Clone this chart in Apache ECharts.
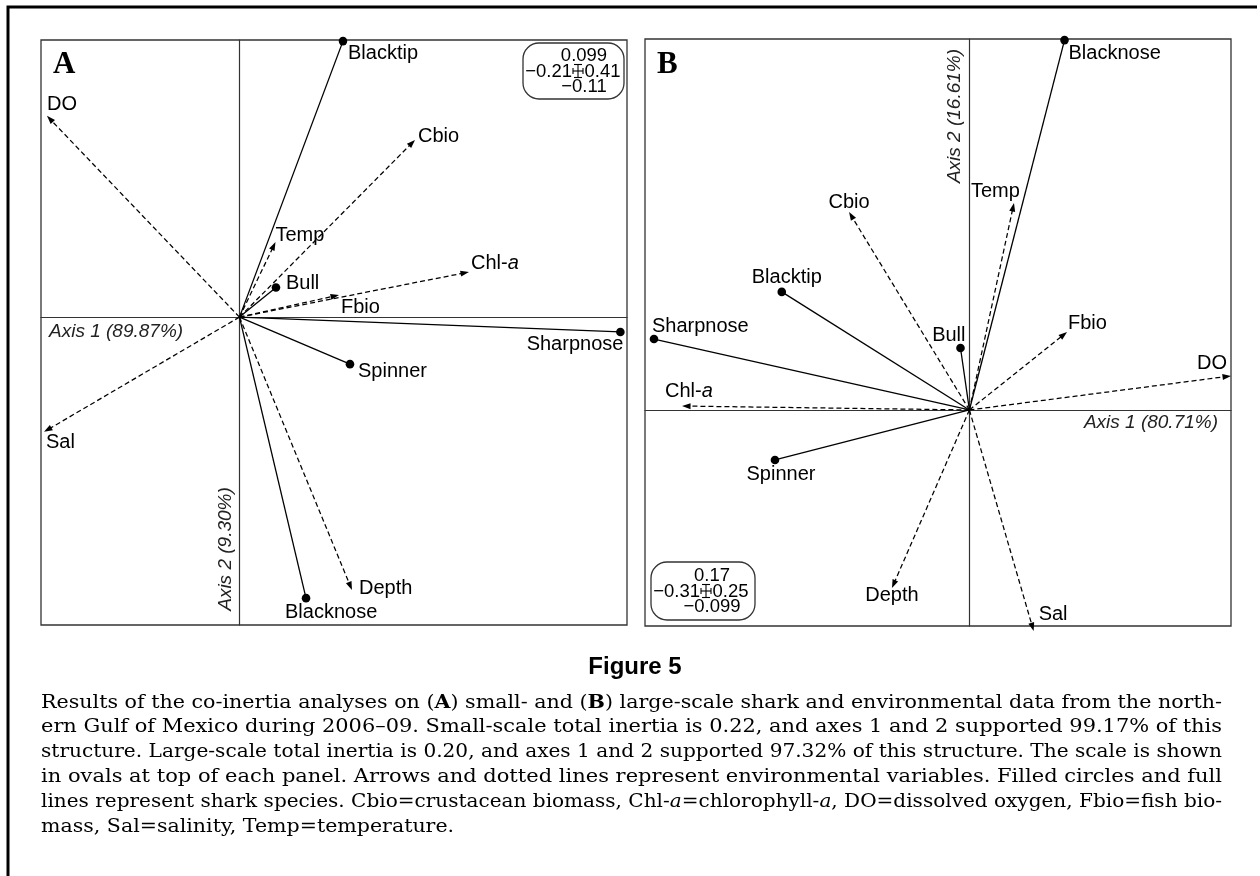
<!DOCTYPE html>
<html><head><meta charset="utf-8">
<script src="https://cdn.jsdelivr.net/npm/echarts@6/dist/echarts.min.js"></script>
<style>html,body{margin:0;padding:0;background:#fff}#c{width:1260px;height:876px}</style>
</head><body><div id="c"></div>
<script>
// ---------- Panel A (small scale) ----------
const limitsA = [-0.21, 0.41, -0.11, 0.099];          // xmin, xmax, ymin, ymax (scale oval)
const limitLabelsA = ['0.099', '\u22120.21', '0.41', '\u22120.11']; // top, left, right, bottom
const speciesA  = ['Blacktip', 'Bull', 'Sharpnose', 'Spinner', 'Blacknose'];
const speciesAx = [0.1095, 0.0386, 0.403, 0.1169, 0.0704];
const speciesAy = [0.0986, 0.0106, -0.0053, -0.0168, -0.1004];
const envA  = ['DO', 'Cbio', 'Temp', 'Chl-a', 'Fbio', 'Sal', 'Depth'];
const envAx = [-0.2037, 0.1857, 0.0381, 0.2428, 0.1053, -0.2068, 0.119];
const envAy = [0.0719, 0.0633, 0.0268, 0.0161, 0.0079, -0.041, -0.0975];
const axisTitlesA = ['Axis 1 (89.87%)', 'Axis 2 (9.30%)'];

// ---------- Panel B (large scale) ----------
const limitsB = [-0.31, 0.25, -0.099, 0.17];
const limitLabelsB = ['0.17', '\u22120.31', '0.25', '\u22120.099'];
const speciesB  = ['Blacknose', 'Blacktip', 'Sharpnose', 'Bull', 'Spinner'];
const speciesBx = [0.0909, -0.1793, -0.3014, -0.0085, -0.1858];
const speciesBy = [0.1695, 0.0541, 0.0325, 0.0284, -0.0229];
const envB  = ['Temp', 'Cbio', 'Fbio', 'DO', 'Chl-a', 'Depth', 'Sal'];
const envBx = [0.0426, -0.115, 0.0933, 0.25, -0.2746, -0.074, 0.0614];
const envBy = [0.0948, 0.0907, 0.0357, 0.0156, 0.0018, -0.0816, -0.1013];
const axisTitlesB = ['Axis 1 (80.71%)', 'Axis 2 (16.61%)'];

// ---------- Caption ----------
const figureTitle = 'Figure 5';
const captionLines = [
  [['r','Results of the co-inertia analyses on ('],['b','A'],['r',') small- and ('],['b','B'],['r',') large-scale shark and environmental data from the north-']],
  [['r','ern Gulf of Mexico during 2006\u201309. Small-scale total inertia is 0.22, and axes 1 and 2 supported 99.17% of this']],
  [['r','structure. Large-scale total inertia is 0.20, and axes 1 and 2 supported 97.32% of this structure. The scale is shown']],
  [['r','in ovals at top of each panel. Arrows and dotted lines represent environmental variables. Filled circles and full']],
  [['r','lines represent shark species. Cbio=crustacean biomass, Chl-'],['i','a'],['r','=chlorophyll-'],['i','a'],['r',', DO=dissolved oxygen, Fbio=fish bio-']],
  [['r','mass, Sal=salinity, Temp=temperature.']]
];

// ---------- Styling (label placement relative to the mark) ----------
const LBL = [
  { // panel A: [align, dx, dy]
    Blacktip:['left',5,12], Bull:['left',10,-4], Sharpnose:['right',3,13], Spinner:['left',8,7],
    Blacknose:['left',-21,14], DO:['left',0,-11], Cbio:['left',3,-3], Temp:['left',0,-7],
    'Chl-a':['left',2,-9], Fbio:['left',2,12], Sal:['left',2,11], Depth:['left',7,-2]
  },
  { // panel B
    Blacknose:['left',4,13], Blacktip:['center',5,-14], Sharpnose:['left',-2,-13], Bull:['right',5,-13],
    Spinner:['center',6,15], Temp:['left',-43,-12], Cbio:['center',0,-10], Fbio:['left',1,-9],
    DO:['right',-4,-12], 'Chl-a':['left',-17,-15], Depth:['center',0,7], Sal:['left',5,-17]
  }
];
const LABEL_FONT = '20px "Liberation Sans", Arial, sans-serif';
const LABEL_FONT_I = 'italic 20px "Liberation Sans", Arial, sans-serif';
const INK = '#000';
const FRAME = '#333';

function labelText(name) {
  if (name === 'Chl-a') return '{n|Chl-}{i|a}';
  return '{n|' + name + '}';
}

function makeSeries(gi, names, xs, ys, kind) {
  const data = names.map((n, i) => [xs[i], ys[i], i]);
  return {
    type: 'custom', xAxisIndex: gi, yAxisIndex: gi, clip: false, silent: true,
    data: data,
    renderItem: function (params, api) {
      const i = api.value(2);
      const name = names[i];
      const p0 = api.coord([0, 0]);
      const p1 = api.coord([api.value(0), api.value(1)]);
      const lp = LBL[gi][name];
      const ch = [];
      if (kind === 'sp') {
        ch.push({ type: 'line', shape: { x1: p0[0], y1: p0[1], x2: p1[0], y2: p1[1] },
          style: { stroke: INK, lineWidth: 1.3 } });
        ch.push({ type: 'circle', shape: { cx: p1[0], cy: p1[1], r: 4.3 }, style: { fill: INK } });
      } else {
        const dx = p1[0] - p0[0], dy = p1[1] - p0[1], L = Math.hypot(dx, dy);
        const ux = dx / L, uy = dy / L, hl = 8.5, hw = 3;
        const bx = p1[0] - ux * hl, by = p1[1] - uy * hl;
        ch.push({ type: 'line', shape: { x1: p0[0], y1: p0[1], x2: bx + ux * 2, y2: by + uy * 2 },
          style: { stroke: INK, lineWidth: 1.25, lineDash: [5, 3] } });
        ch.push({ type: 'polygon', shape: { points: [[p1[0], p1[1]], [bx - uy * hw, by + ux * hw], [bx + uy * hw, by - ux * hw]] },
          style: { fill: INK } });
      }
      ch.push({ type: 'text', x: p1[0] + lp[1], y: p1[1] + lp[2],
        style: { text: labelText(name), align: lp[0], verticalAlign: 'middle', fill: INK,
          rich: { n: { font: LABEL_FONT, fill: INK }, i: { font: LABEL_FONT_I, fill: INK } } } });
      return { type: 'group', children: ch };
    }
  };
}

function axisPair(gi, lim) {
  const common = {
    gridIndex: gi, type: 'value',
    axisTick: { show: false }, axisLabel: { show: false }, splitLine: { show: false },
    axisLine: { show: true, onZero: true, lineStyle: { color: FRAME, width: 1.2 } }
  };
  return [
    Object.assign({}, common, { min: lim[0], max: lim[1] }),
    Object.assign({}, common, { min: lim[2], max: lim[3] })
  ];
}

const gridA = { left: 41, top: 40, width: 586, height: 585 };
const gridB = { left: 645, top: 39, width: 586, height: 587 };
const [xA, yA] = axisPair(0, limitsA);
const [xB, yB] = axisPair(1, limitsB);

// scale ovals
function oval(rect, cross, labels) {
  const [cx, cy] = cross;
  const f = '18.5px "Liberation Sans", Arial, sans-serif';
  const els = [
    { type: 'rect', shape: { x: rect[0], y: rect[1], width: rect[2], height: rect[3], r: 16 },
      style: { fill: '#fff', stroke: FRAME, lineWidth: 1.3 } },
    { type: 'text', x: cx + 6, y: cy - 15.5, style: { text: labels[0], font: f, fill: INK, align: 'center', verticalAlign: 'middle' } },
    { type: 'text', x: cx - 6, y: cy + 0.5, style: { text: labels[1], font: f, fill: INK, align: 'right', verticalAlign: 'middle' } },
    { type: 'text', x: cx + 6.5, y: cy + 0.5, style: { text: labels[2], font: f, fill: INK, align: 'left', verticalAlign: 'middle' } },
    { type: 'text', x: cx + 6, y: cy + 16, style: { text: labels[3], font: f, fill: INK, align: 'center', verticalAlign: 'middle' } }
  ];
  const segs = [
    [cx, cy - 6.5, cx, cy + 6.5], [cx - 4, cy - 6.5, cx + 4, cy - 6.5], [cx - 4, cy + 6.5, cx + 4, cy + 6.5],
    [cx - 5, cy, cx + 5, cy], [cx - 5, cy - 3, cx - 5, cy + 3], [cx + 5, cy - 3, cx + 5, cy + 3]
  ];
  segs.forEach(s => els.push({ type: 'line', shape: { x1: s[0], y1: s[1], x2: s[2], y2: s[3] },
    style: { stroke: INK, lineWidth: 1.1 } }));
  return els;
}

// caption measurement & justification
const CAP_FONTS = {
  r: '18px "DejaVu Serif", "Liberation Serif", serif',
  b: 'bold 18px "DejaVu Serif", "Liberation Serif", serif',
  i: 'italic 18px "DejaVu Serif", "Liberation Serif", serif'
};
const mctx = document.createElement('canvas').getContext('2d');
function segWidth(segs) {
  let s = 0;
  segs.forEach(([k, t]) => { mctx.font = CAP_FONTS[k]; s += mctx.measureText(t).width; });
  return s;
}
const capLeft = 41, capRight = 1222, capTop = 703, capStep = 24.8;
const scales = captionLines.map(l => (capRight - capLeft) / segWidth(l));
const avgScale = scales.slice(0, -1).reduce((a, b) => a + b, 0) / (scales.length - 1);
const captionEls = captionLines.map((segs, i) => ({
  type: 'text', x: capLeft, y: capTop + i * capStep,
  scaleX: i === captionLines.length - 1 ? avgScale : scales[i],
  style: {
    text: segs.map(([k, t]) => '{' + k + '|' + t + '}').join(''),
    align: 'left', verticalAlign: 'middle', fill: INK,
    rich: { r: { font: CAP_FONTS.r, fill: INK }, b: { font: CAP_FONTS.b, fill: INK }, i: { font: CAP_FONTS.i, fill: INK } }
  }
}));

const AXT = 'italic 19px "Liberation Sans", Arial, sans-serif';
const graphics = [
  { type: 'polyline', shape: { points: [[8, 876], [8, 7], [1257, 7]] }, style: { stroke: '#000', lineWidth: 3, fill: null } },
  { type: 'text', x: 53, y: 65, style: { text: 'A', font: 'bold 31px "Liberation Serif", "Times New Roman", serif', fill: INK, verticalAlign: 'middle' } },
  { type: 'text', x: 657, y: 65, style: { text: 'B', font: 'bold 31px "Liberation Serif", "Times New Roman", serif', fill: INK, verticalAlign: 'middle' } },
  { type: 'text', x: 49, y: 332, style: { text: axisTitlesA[0], font: AXT, fill: '#222', verticalAlign: 'middle' } },
  { type: 'text', x: 226, y: 549, rotation: Math.PI / 2, style: { text: axisTitlesA[1], font: AXT, fill: '#222', align: 'center', verticalAlign: 'middle' } },
  { type: 'text', x: 1218, y: 423, style: { text: axisTitlesB[0], font: AXT, fill: '#222', align: 'right', verticalAlign: 'middle' } },
  { type: 'text', x: 955, y: 116, rotation: Math.PI / 2, style: { text: axisTitlesB[1], font: AXT, fill: '#222', align: 'center', verticalAlign: 'middle' } },
  { type: 'text', x: 635, y: 667, style: { text: figureTitle, font: 'bold 24px "Liberation Sans", Arial, sans-serif', fill: INK, align: 'center', verticalAlign: 'middle' } }
].concat(oval([523, 43, 101, 56], [578, 71], limitLabelsA))
 .concat(oval([651, 562, 104, 58], [706, 591], limitLabelsB))
 .concat(captionEls);

const chart = echarts.init(document.getElementById('c'), null, { renderer: 'canvas' });
chart.setOption({
  animation: false,
  backgroundColor: '#fff',
  grid: [
    Object.assign({ show: true, borderColor: FRAME, borderWidth: 1.3, backgroundColor: 'transparent' }, gridA),
    Object.assign({ show: true, borderColor: FRAME, borderWidth: 1.3, backgroundColor: 'transparent' }, gridB)
  ],
  xAxis: [xA, xB],
  yAxis: [yA, yB],
  series: [
    makeSeries(0, envA, envAx, envAy, 'env'),
    makeSeries(0, speciesA, speciesAx, speciesAy, 'sp'),
    makeSeries(1, envB, envBx, envBy, 'env'),
    makeSeries(1, speciesB, speciesBx, speciesBy, 'sp')
  ],
  graphic: { elements: graphics }
});
</script>
</body></html>
